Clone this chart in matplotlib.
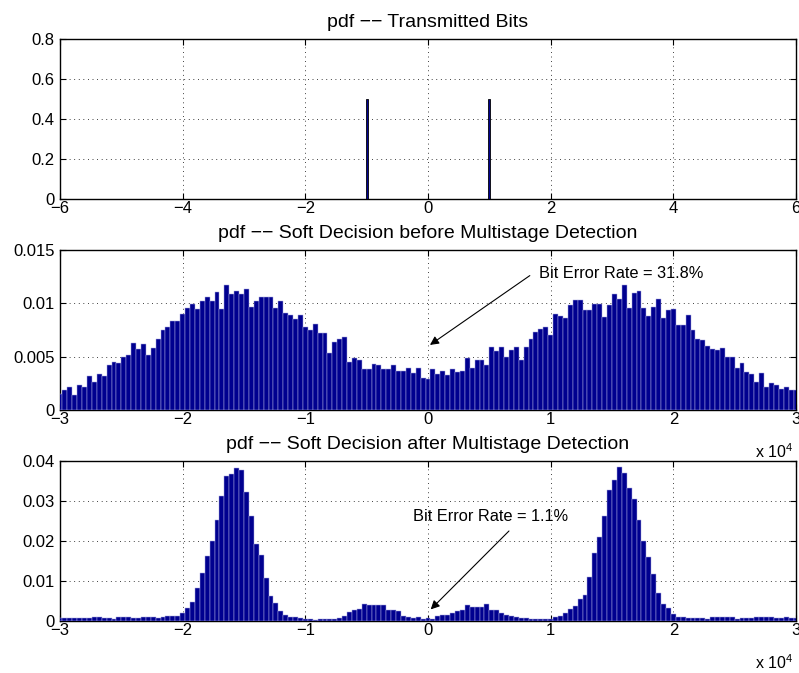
import numpy as np
import matplotlib
matplotlib.use("Agg")
import matplotlib.pyplot as plt
from matplotlib.ticker import FuncFormatter

plt.rcParams['font.family'] = ['Liberation Sans', 'DejaVu Sans']
plt.rcParams['mathtext.fontset'] = 'custom'
plt.rcParams['mathtext.rm'] = 'Liberation Sans'
plt.rcParams['mathtext.it'] = 'Liberation Sans:italic'
plt.rcParams['font.size'] = 12

# ---- data -------------------------------------------------------------
# transmitted bits (BPSK symbols) and their probability
tx_symbols = [-1, 1]
tx_pdf = [0.5, 0.5]

# histogram bin centres for the soft decisions
bin_centers = np.arange(-30000, 30001, 400)

# soft decision before multistage detection
pdf_before = [
    0.0015, 0.0019, 0.0022, 0.0014, 0.0023, 0.0022, 0.0032, 0.0026, 0.0034, 0.0032,
    0.0042, 0.0045, 0.0044, 0.0050, 0.0052, 0.0063, 0.0057, 0.0062, 0.0052, 0.0058,
    0.0067, 0.0075, 0.0078, 0.0083, 0.0083, 0.0090, 0.0096, 0.0099, 0.0095, 0.0102,
    0.0106, 0.0102, 0.0111, 0.0095, 0.0117, 0.0109, 0.0112, 0.0109, 0.0113, 0.0097,
    0.0102, 0.0106, 0.0106, 0.0106, 0.0096, 0.0102, 0.0091, 0.0089, 0.0085, 0.0089,
    0.0078, 0.0075, 0.0081, 0.0072, 0.0072, 0.0053, 0.0064, 0.0067, 0.0068, 0.0045,
    0.0049, 0.0047, 0.0038, 0.0038, 0.0043, 0.0042, 0.0038, 0.0038, 0.0042, 0.0037,
    0.0037, 0.0039, 0.0035, 0.0039, 0.0030, 0.0029, 0.0038, 0.0034, 0.0037, 0.0033,
    0.0038, 0.0036, 0.0037, 0.0049, 0.0039, 0.0047, 0.0047, 0.0042, 0.0059, 0.0055,
    0.0059, 0.0050, 0.0056, 0.0059, 0.0047, 0.0059, 0.0067, 0.0073, 0.0076, 0.0078,
    0.0070, 0.0090, 0.0088, 0.0086, 0.0098, 0.0103, 0.0103, 0.0094, 0.0094, 0.0099,
    0.0099, 0.0087, 0.0098, 0.0109, 0.0104, 0.0117, 0.0096, 0.0110, 0.0112, 0.0096,
    0.0088, 0.0097, 0.0104, 0.0086, 0.0094, 0.0095, 0.0080, 0.0080, 0.0089, 0.0075,
    0.0067, 0.0066, 0.0060, 0.0057, 0.0056, 0.0058, 0.0050, 0.0050, 0.0039, 0.0044,
    0.0036, 0.0034, 0.0026, 0.0035, 0.0022, 0.0025, 0.0023, 0.0020, 0.0022, 0.0019,
    0.0019,
]

# soft decision after multistage detection
pdf_after = [
    0.0007, 0.0007, 0.0007, 0.0007, 0.0008, 0.0007, 0.0008, 0.0009, 0.0009, 0.0008,
    0.0008, 0.0006, 0.0010, 0.0011, 0.0010, 0.0007, 0.0008, 0.0011, 0.0010, 0.0009,
    0.0007, 0.0011, 0.0012, 0.0012, 0.0012, 0.0019, 0.0032, 0.0047, 0.0082, 0.0119,
    0.0163, 0.0200, 0.0253, 0.0313, 0.0363, 0.0367, 0.0382, 0.0378, 0.0323, 0.0263,
    0.0193, 0.0165, 0.0108, 0.0063, 0.0044, 0.0026, 0.0015, 0.0009, 0.0009, 0.0007,
    0.0005, 0.0005, 0.0003, 0.0004, 0.0006, 0.0006, 0.0006, 0.0008, 0.0013, 0.0022,
    0.0028, 0.0029, 0.0042, 0.0039, 0.0041, 0.0040, 0.0040, 0.0028, 0.0028, 0.0025,
    0.0013, 0.0011, 0.0008, 0.0009, 0.0005, 0.0007, 0.0005, 0.0013, 0.0015, 0.0015,
    0.0021, 0.0025, 0.0028, 0.0040, 0.0036, 0.0034, 0.0034, 0.0042, 0.0028, 0.0028,
    0.0019, 0.0015, 0.0013, 0.0011, 0.0008, 0.0007, 0.0005, 0.0005, 0.0005, 0.0005,
    0.0005, 0.0011, 0.0013, 0.0019, 0.0029, 0.0038, 0.0054, 0.0065, 0.0109, 0.0169,
    0.0209, 0.0263, 0.0328, 0.0353, 0.0386, 0.0371, 0.0332, 0.0305, 0.0253, 0.0200,
    0.0159, 0.0118, 0.0069, 0.0042, 0.0032, 0.0018, 0.0011, 0.0009, 0.0008, 0.0008,
    0.0008, 0.0007, 0.0005, 0.0009, 0.0011, 0.0010, 0.0011, 0.0009, 0.0006, 0.0007,
    0.0008, 0.0008, 0.0009, 0.0009, 0.0009, 0.0010, 0.0008, 0.0008, 0.0010, 0.0008,
    0.0008,
]

ber_before = 31.8
ber_after = 1.1

titles = [
    "pdf \u2212\u2212 Transmitted Bits",
    "pdf \u2212\u2212 Soft Decision before Multistage Detection",
    "pdf \u2212\u2212 Soft Decision after Multistage Detection",
]

# ---- styling ----------------------------------------------------------
bar_face = (0.0, 0.0, 0.56)
bar_edge = '#a8a8e0'
grid_kw = dict(color='black', linestyle=(0, (1, 4.5)), linewidth=0.6)
title_size = 14
tick_size = 12
note_size = 11.8

fig = plt.figure(figsize=(7.99, 6.73), dpi=100)
left, width, height = 60 / 799, 736 / 799, 160 / 673
ax1 = fig.add_axes([left, 1 - 199 / 673, width, height])
ax2 = fig.add_axes([left, 1 - 410 / 673, width, height])
ax3 = fig.add_axes([left, 1 - 621 / 673, width, height])


def matlab_axes(ax):
    ax.tick_params(direction='in', top=True, right=True, length=4,
                   width=0.8, labelsize=tick_size)
    ax.tick_params(axis='x', pad=1.5)
    ax.tick_params(axis='y', pad=4)
    for s in ax.spines.values():
        s.set_linewidth(1.0)
    ax.grid(True, **grid_kw)
    ax.set_axisbelow(False)


# top: transmitted bits
ax1.bar(tx_symbols, tx_pdf, width=0.03, color=bar_face, edgecolor='black',
        linewidth=0.6, zorder=3)
ax1.set_xlim(-6, 6)
ax1.set_ylim(0, 0.8)
ax1.set_xticks(np.arange(-6, 7, 2))
ax1.set_yticks(np.arange(0, 0.81, 0.2))
ax1.yaxis.set_major_formatter(FuncFormatter(lambda v, p: f"{v:g}"))
matlab_axes(ax1)
ax1.set_title(titles[0], fontsize=title_size, pad=8.5)

scale_fmt = FuncFormatter(lambda v, p: f"{v / 1e4:g}".replace('-', '\u2212'))

for ax, vals, title, ymax, yticks in [
    (ax2, pdf_before, titles[1], 0.015, [0, 0.005, 0.01, 0.015]),
    (ax3, pdf_after, titles[2], 0.04, [0, 0.01, 0.02, 0.03, 0.04]),
]:
    ax.bar(bin_centers, vals, width=400, color=bar_face, edgecolor=bar_edge,
           linewidth=0.35, zorder=3)
    ax.set_xlim(-30000, 30000)
    ax.set_ylim(0, ymax)
    ax.set_xticks(np.arange(-30000, 30001, 10000))
    ax.set_yticks(yticks)
    ax.xaxis.set_major_formatter(scale_fmt)
    ax.yaxis.set_major_formatter(FuncFormatter(lambda v, p: f"{v:g}"))
    matlab_axes(ax)
    ax.set_title(title, fontsize=title_size, pad=8.5)
    ax.text(0.996, -0.262, r"x 10$^{4}$", transform=ax.transAxes,
            ha='right', va='center', fontsize=11.5)

# bit error rate annotations: label plus an arrow pointing at zero
arrow_kw = dict(arrowstyle='-|>', color='black', lw=0.8,
                shrinkA=0, shrinkB=0, mutation_scale=13)

ax2.text(9050, 0.0128, f"Bit Error Rate = {ber_before}%", ha='left',
         va='center', fontsize=note_size, zorder=5)
ax2.annotate("", xy=(160, 0.0061), xytext=(8300, 0.0126),
             arrowprops=arrow_kw, zorder=5)

ax3.text(-1250, 0.0262, f"Bit Error Rate = {ber_after}%", ha='left',
         va='center', fontsize=note_size, zorder=5)
ax3.annotate("", xy=(220, 0.0029), xytext=(6600, 0.0225),
             arrowprops=arrow_kw, zorder=5)

fig.savefig("out.png", dpi=100)
